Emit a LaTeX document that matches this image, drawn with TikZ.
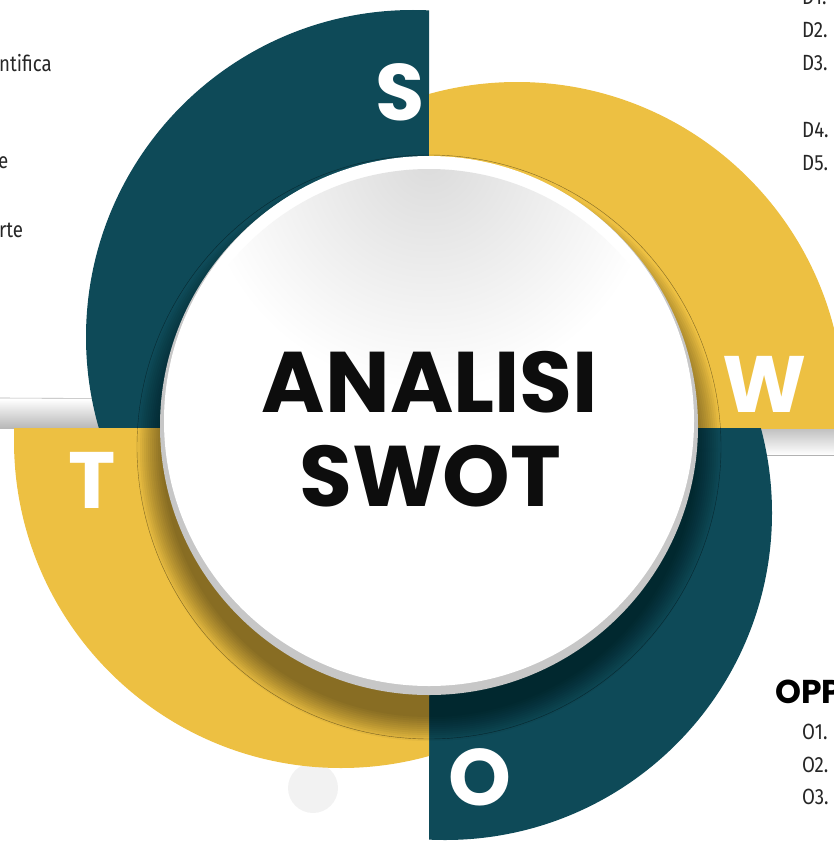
\documentclass[tikz,border=0pt]{standalone}
\usepackage{fontspec}
\newfontfamily\popfont{Poppins}
\newfontfamily\condfont[FakeStretch=0.85]{Fira Sans}
\definecolor{swotteal}{HTML}{0E4A58}
\definecolor{swotyellow}{HTML}{EDC042}
\tikzset{
  swotletter/.style={text=white, inner sep=0pt, font=\popfont\bfseries\fontsize{80}{80}\selectfont},
  titletext/.style={text=black!95, inner sep=0pt, font=\popfont\bfseries\fontsize{86}{86}\selectfont},
  itemtext/.style={text=black!85, inner sep=0pt, anchor=west, font=\condfont\fontsize{22}{22}\selectfont},
}
\begin{document}
\begin{tikzpicture}[x=1pt,y=-1pt]
        \useasboundingbox (0,0) rectangle (834,843);
        \clip (0,0) rectangle (834,843);
        % small disc behind the T ring
        \fill[black!5] (313,788) circle (25pt);
        % grey bars
        \shade[top color=white, bottom color=black!28] (0,399) rectangle (429,428);
        \draw[black!30, line width=0.6pt] (0,398) -- (429,400);
        \shade[top color=black!25, bottom color=white] (429,428) rectangle (834,455);
        \draw[black!30, line width=0.6pt] (429,455) -- (834,455);
        % S
        \begin{scope}
            \clip (0,0) rectangle (429,428);
            \fill[swotteal] (413,337) circle (327pt);
        \end{scope}
        % W
        \begin{scope}
            \clip (429,0) rectangle (834,428);
            \fill[swotyellow] (517,409) circle (327pt);
        \end{scope}
        % O
        \begin{scope}
            \clip (429,428) rectangle (834,843);
            \fill[swotteal] (445,513) circle (327pt);
        \end{scope}
        % T
        \begin{scope}
            \clip (0,428) rectangle (429,843);
            \fill[swotyellow] (341,441) circle (327pt);
        \end{scope}
        % shadow of the disc
        \foreach \r in {267,269,...,291}
            \fill[black, opacity=0.038] (429,450) circle (\r pt);
        \draw[black, opacity=0.45, line width=0.4pt] (429,447) circle (292pt);
        % disc
        \fill[black!22] (429,426) circle (269pt);
        \fill[white] (429,421) circle (265pt);
        \begin{scope}
            \clip (429,426) circle (257pt);
            \shade[inner color=black!14, outer color=white] (429,160) circle (230pt);
        \end{scope}
        \node[titletext] (analisi) at (430,382) {ANALISI};
        \node[titletext] (swot) at (430,476) {SWOT};
        \node[swotletter] (letS) at (400,92) {S};
        \node[swotletter] (letW) at (765,384) {W};
        \node[swotletter] (letO) at (480,777) {O};
        \node[swotletter] (letT) at (92,480) {T};
        % lists
        \node[itemtext] (sOne) at (-1,63) {ntifica};
        \node[itemtext] (sTwo) at (-2,163) {e};
        \node[itemtext] (sThree) at (-1,230) {rte};
        \node[itemtext] (dOne) at (802,-3) {D1.};
        \node[itemtext] (dTwo) at (802,30) {D2.};
        \node[itemtext] (dThree) at (802,63) {D3.};
        \node[itemtext] (dFour) at (802,130) {D4.};
        \node[itemtext] (dFive) at (802,163) {D5.};
        \node[anchor=west, inner sep=0pt, font=\popfont\bfseries\fontsize{33}{33}\selectfont] (opp) at (775,692) {OPP};
        \node[itemtext] (oOne) at (802,732) {O1.};
        \node[itemtext] (oTwo) at (802,765) {O2.};
        \node[itemtext] (oThree) at (802,797) {O3.};
\end{tikzpicture}
\end{document}
